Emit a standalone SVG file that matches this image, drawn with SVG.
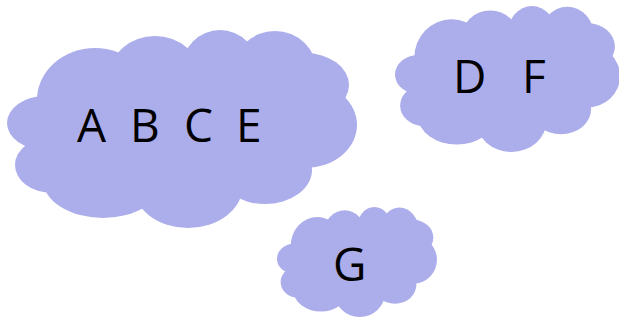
<svg xmlns="http://www.w3.org/2000/svg" xmlns:xlink="http://www.w3.org/1999/xlink" width="619" height="326" viewBox="0 0 619 326">
<style>
.cl{fill:#ACADEB;stroke:none}
.t{font-family:"Open Sans","Liberation Sans",Arial,sans-serif;font-size:46px;fill:#000}
</style>
<defs>
<g id="cloud" class="cl">
<ellipse cx="38" cy="93" rx="38" ry="27"/>
<ellipse cx="45" cy="135" rx="37" ry="28"/>
<ellipse cx="96" cy="150" rx="60" ry="38"/>
<ellipse cx="181" cy="155" rx="55" ry="43"/>
<ellipse cx="258" cy="140" rx="47" ry="34"/>
<ellipse cx="298" cy="95" rx="52" ry="43"/>
<ellipse cx="298" cy="55" rx="44" ry="32"/>
<ellipse cx="268" cy="42" rx="42" ry="41"/>
<ellipse cx="213" cy="38" rx="38" ry="38"/>
<ellipse cx="148" cy="45" rx="45" ry="39"/>
<ellipse cx="88" cy="70" rx="58" ry="52"/>
<ellipse cx="178" cy="100" rx="130" ry="70"/>
</g>
</defs>
<g id="node-abce">
<use xlink:href="#cloud" transform="translate(7,30)"/>
<text class="t" x="77" y="142">A</text>
<text class="t" x="130" y="142">B</text>
<text class="t" x="184" y="142">C</text>
<text class="t" x="236" y="142">E</text>
</g>
<g id="node-df">
<use xlink:href="#cloud" transform="translate(395,6) scale(0.643,0.737)"/>
<text class="t" x="453" y="93">D</text>
<text class="t" x="522" y="93">F</text>
</g>
<g id="node-g">
<use xlink:href="#cloud" transform="translate(277,207) scale(0.457,0.556)"/>
<text class="t" x="333" y="281">G</text>
</g>
<g id="connectors"/>
</svg>
